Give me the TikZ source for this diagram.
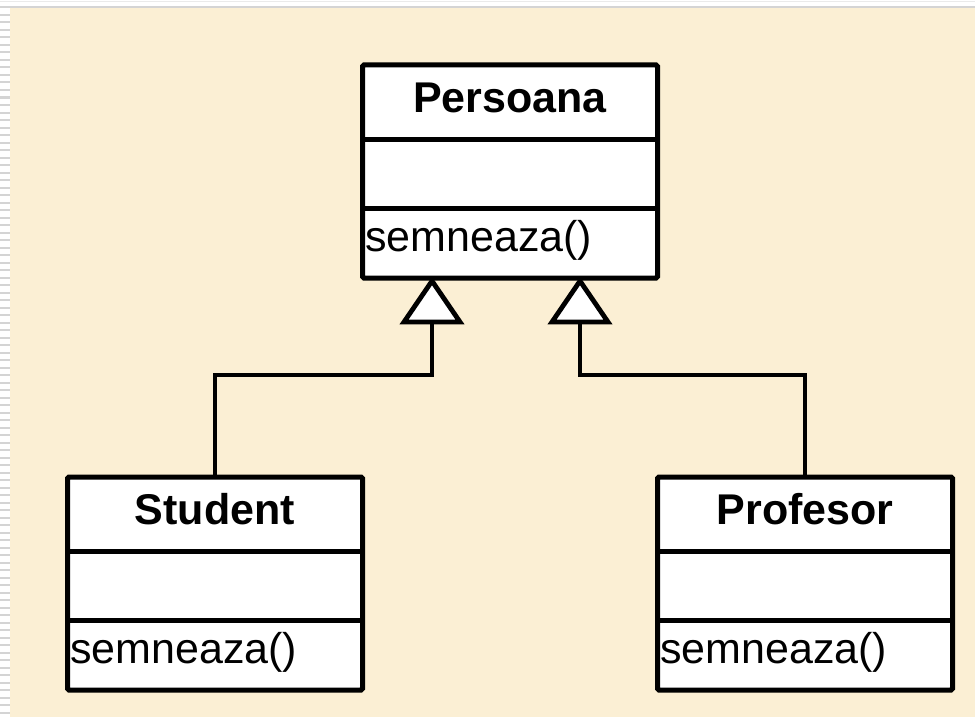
\documentclass[tikz,border=0pt]{standalone}
\usepackage{fontspec}
\setmainfont{Liberation Sans}
\usetikzlibrary{calc}
\definecolor{parchment}{RGB}{251,239,212}
\definecolor{stripe}{RGB}{212,212,212}
\tikzset{
  classbox/.style={draw=black, fill=white, line width=5pt, rounded corners=1.5pt,
    minimum width=295pt, minimum height=213pt, inner sep=0pt},
  classline/.style={line width=4.6pt},
  classtitle/.style={font=\fontsize{43}{50}\selectfont\bfseries, inner sep=0pt, anchor=base},
  classop/.style={font=\fontsize{43}{50}\selectfont, inner sep=0pt, anchor=base west},
  genline/.style={line width=3.8pt},
  genhead/.style={line width=4.8pt, fill=white, line join=miter, miter limit=10},
}
% #1 node name, #2 left x, #3 top y, #4 class name, #5 operation
\newcommand\umlclass[5]{%
  \node[classbox, anchor=north west] (#1) at (#2,#3) {};
  \draw[classline] ([yshift=-77pt]#1.north west) -- ([yshift=-77pt]#1.north east);
  \draw[classline] ([yshift=-146pt]#1.north west) -- ([yshift=-146pt]#1.north east);
  \node[classtitle] (#1-name) at ([yshift=-50pt]#1.north) {#4};
  \node[classop] (#1-op) at ([xshift=5pt,yshift=-189pt]#1.north west) {#5};
}
% #1 base-centre coordinate name, #2 apex x, #3 apex y
\newcommand\genhead[3]{%
  \coordinate (#1) at (#2,#3+41);
  \draw[genhead] (#2,#3) -- (#2-28,#3+41) -- (#2+28,#3+41) -- cycle;
}
\begin{document}
\begin{tikzpicture}[x=1pt,y=-1pt]
  \useasboundingbox (0,0) rectangle (975,717);
  % page background with striped left margin and top band
  \fill[white] (0,0) rectangle (975,717);
  \fill[parchment] (10,8) rectangle (975,717);
  \foreach \y in {15,22.5,...,717} \draw[stripe, line width=2pt] (0,\y) -- (10,\y);
  \draw[stripe!50, line width=1pt] (0,2) -- (975,2);
  \draw[stripe, line width=1.8pt] (0,7) -- (975,7);

  % classes
  \umlclass{per}{360}{62.5}{Persoana}{semneaza()}
  \umlclass{stu}{65}{474.5}{Student}{semneaza()}
  \umlclass{pro}{655}{474.5}{Profesor}{semneaza()}

  % generalisation connectors, heads drawn over the line ends
  \coordinate (jl) at (432,375);
  \coordinate (jr) at (580,375);
  \path (432,322) coordinate (hl) (580,322) coordinate (hr);
  \draw[genline] (stu.north) |- (jl) -- (hl);
  \draw[genline] (pro.north) |- (jr) -- (hr);
  \genhead{hl}{432}{281}
  \genhead{hr}{580}{281}
\end{tikzpicture}
\end{document}
